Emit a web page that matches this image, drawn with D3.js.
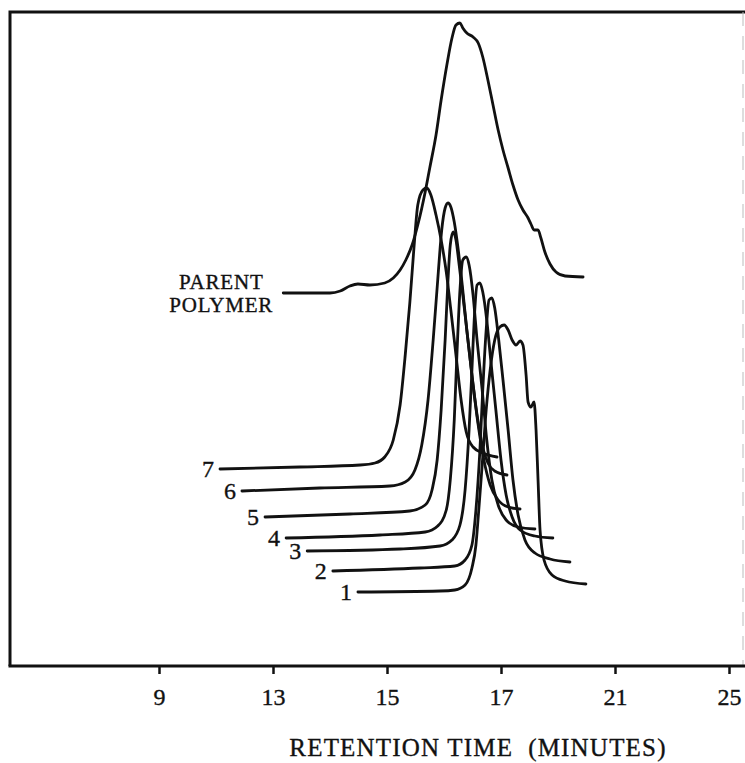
<!DOCTYPE html>
<html lang="en">
<head>
  <meta charset="UTF-8">
  <title>Retention time traces</title>
  <script src="https://d3js.org/d3.v7.min.js"></script>
</head>

<body style="margin:0; background:#fff;">

  <div id="chart"></div>

  <style>
  text {
    font-family: "Liberation Serif", "Times New Roman", serif;
    fill: #111;
    stroke: #111;
    stroke-width: 0.35px;
  }
  </style>

  <script type="text/javascript">

  // tick labels on the time axis (they are evenly spaced on the original)
  const tickLabels = [9, 13, 15, 17, 21, 25];

  // traces: [retention time (min), detector response (arbitrary units)]
  const parent = [
    [13.18, 373], [14.00, 373], [14.18, 375], [14.35, 380], [14.49, 382], [14.70, 381],
    [14.96, 383], [15.11, 388], [15.23, 396], [15.33, 406], [15.44, 421], [15.54, 441],
    [15.67, 474], [15.75, 498], [15.86, 531], [15.95, 566], [16.05, 601], [16.14, 628],
    [16.21, 641], [16.28, 643], [16.33, 638], [16.40, 633], [16.51, 629], [16.60, 623],
    [16.68, 609], [16.77, 586], [16.86, 561], [16.95, 536], [17.07, 516], [17.25, 498],
    [17.42, 481], [17.60, 466], [17.77, 456], [17.95, 448], [18.05, 442], [18.16, 436],
    [18.30, 436], [18.40, 428], [18.54, 414], [18.72, 402], [18.93, 394], [19.25, 390],
    [19.88, 389]
  ];

  const trace7 = [
    [11.14, 197], [13.47, 199], [14.53, 201], [14.79, 203], [14.96, 209], [15.11, 226],
    [15.23, 261], [15.32, 311], [15.40, 363], [15.47, 416], [15.54, 461], [15.63, 476],
    [15.70, 478], [15.77, 471], [15.86, 451], [15.95, 426], [16.04, 394], [16.12, 356],
    [16.21, 311], [16.30, 266], [16.39, 234], [16.51, 219], [16.68, 213], [16.93, 209]
  ];

  const trace6 = [
    [11.91, 175], [13.82, 178], [15.05, 180], [15.32, 184], [15.49, 196], [15.61, 221],
    [15.72, 266], [15.81, 326], [15.89, 386], [15.96, 436], [16.02, 458], [16.07, 463],
    [16.12, 459], [16.18, 444], [16.25, 416], [16.32, 381], [16.40, 336], [16.49, 291],
    [16.58, 251], [16.67, 221], [16.77, 203], [16.89, 195], [17.21, 191]
  ];

  const trace5 = [
    [12.72, 149], [14.35, 152], [15.40, 155], [15.67, 161], [15.79, 176], [15.88, 206],
    [15.95, 256], [16.02, 326], [16.07, 386], [16.11, 421], [16.16, 434], [16.21, 426],
    [16.26, 404], [16.33, 371], [16.42, 326], [16.51, 281], [16.60, 241], [16.70, 206],
    [16.81, 181], [16.95, 166], [17.25, 159], [17.67, 157]
  ];

  const trace4 = [
    [13.23, 128], [14.88, 131], [15.67, 134], [15.89, 140], [16.04, 156], [16.11, 186],
    [16.18, 246], [16.23, 316], [16.28, 376], [16.33, 406], [16.39, 409], [16.44, 401],
    [16.51, 371], [16.58, 326], [16.67, 276], [16.75, 226], [16.84, 186], [16.95, 161],
    [17.18, 146], [17.60, 139], [18.19, 137]
  ];

  const trace3 = [
    [13.60, 115], [15.23, 117], [15.93, 120], [16.14, 126], [16.28, 141], [16.37, 176],
    [16.44, 236], [16.49, 296], [16.53, 346], [16.58, 381], [16.63, 383], [16.68, 374],
    [16.75, 346], [16.82, 306], [16.91, 256], [17.00, 206], [17.18, 171], [17.39, 149],
    [17.67, 136], [18.19, 130], [18.82, 128]
  ];

  const trace2 = [
    [14.05, 95], [15.58, 98], [16.19, 100], [16.37, 106], [16.49, 121], [16.56, 156],
    [16.63, 216], [16.68, 276], [16.74, 336], [16.79, 366], [16.84, 368], [16.89, 358],
    [16.96, 326], [17.07, 286], [17.25, 236], [17.42, 186], [17.60, 151], [17.84, 126],
    [18.19, 113], [18.72, 107], [19.42, 104]
  ];

  const trace1 = [
    [14.49, 74], [15.93, 75], [16.19, 76], [16.37, 81], [16.49, 98], [16.56, 121],
    [16.61, 156], [16.67, 201], [16.74, 256], [16.81, 296], [16.89, 326], [16.98, 339],
    [17.11, 341], [17.25, 336], [17.39, 326], [17.53, 321], [17.67, 325], [17.77, 321],
    [17.88, 291], [17.95, 264], [18.05, 259], [18.16, 264], [18.23, 236], [18.30, 186],
    [18.37, 136], [18.51, 106], [18.79, 91], [19.25, 85], [19.98, 82]
  ];

  const traceNames = ["7", "6", "5", "4", "3", "2", "1"];
  const traces = [trace7, trace6, trace5, trace4, trace3, trace2, trace1];

  const w = 745;
  const h = 763;
  const frame = {left: 10, top: 12, right: 743, bottom: 666};

  const svg = d3.select("#chart").append("svg")
    .attr("width", w)
    .attr("height", h);

  // Scales
  // the printed axis puts unevenly spaced times at even spacing -> polylinear
  const firstTick = 159;
  const tickStep = 114;
  const x = d3.scaleLinear()
    .domain(tickLabels)
    .range(tickLabels.map((d, i) => firstTick + i * tickStep));

  const y = d3.scaleLinear()
    .domain([0, 654])
    .range([frame.bottom, frame.top]);

  // frame
  svg.append("path")
    .attr("d", `M${frame.left},${frame.bottom} L${frame.left},${frame.top} L${w},${frame.top}`)
    .attr("fill", "none")
    .attr("stroke", "#111")
    .attr("stroke-width", 3);

  svg.append("line")
    .attr("x1", frame.right).attr("x2", frame.right)
    .attr("y1", frame.top).attr("y2", frame.bottom)
    .attr("stroke", "#bbb")
    .attr("stroke-width", 1)
    .attr("stroke-dasharray", "14,10");

  // x axis
  const xAxis = d3.axisBottom(x)
    .tickValues(tickLabels)
    .tickSize(8)
    .tickPadding(14)
    .tickFormat(d => d);

  const xAxisGroup = svg.append("g")
    .attr("transform", `translate(0, ${frame.bottom})`)
    .call(xAxis);

  xAxisGroup.select(".domain").remove();
  xAxisGroup.selectAll(".tick line")
    .attr("stroke", "#111")
    .attr("stroke-width", 2.5);
  xAxisGroup.selectAll(".tick text")
    .attr("font-size", "24px")
    .attr("font-family", "Liberation Serif, Times New Roman, serif")
    .attr("fill", "#111");

  svg.append("line")
    .attr("x1", frame.left - 1.5).attr("x2", w)
    .attr("y1", frame.bottom).attr("y2", frame.bottom)
    .attr("stroke", "#111")
    .attr("stroke-width", 3);

  svg.append("text")
    .attr("x", 478)
    .attr("y", 756)
    .attr("text-anchor", "middle")
    .attr("font-size", "25px")
    .attr("letter-spacing", "1.2px")
    .style("white-space", "pre")
    .text("RETENTION TIME  (MINUTES)");

  // traces
  const line = d3.line()
    .x(d => x(d[0]))
    .y(d => y(d[1]))
    .curve(d3.curveMonotoneX);

  const graph = svg.append("g")
    .attr("fill", "none")
    .attr("stroke", "#111")
    .attr("stroke-width", 2.8)
    .attr("stroke-linecap", "round")
    .attr("stroke-linejoin", "round");

  graph.append("path")
    .attr("d", line(parent));

  graph.selectAll("path.trace")
    .data(traces)
    .enter()
    .append("path")
      .attr("class", "trace")
      .attr("d", line);

  // trace labels sit just left of each trace's start
  svg.selectAll("text.trace-label")
    .data(traces)
    .enter()
    .append("text")
      .attr("class", "trace-label")
      .attr("x", d => x(d[0][0]) - 6)
      .attr("y", d => y(d[0][1]) + 8)
      .attr("text-anchor", "end")
      .attr("font-size", "24px")
      .text((d, i) => traceNames[i]);

  const parentLabel = svg.append("text")
    .attr("text-anchor", "middle")
    .attr("font-size", "21px")
    .attr("letter-spacing", "0.8px");

  parentLabel.append("tspan")
    .attr("x", x(parent[0][0]) - 62)
    .attr("y", y(parent[0][1]) - 4)
    .text("PARENT");
  parentLabel.append("tspan")
    .attr("x", x(parent[0][0]) - 62)
    .attr("y", y(parent[0][1]) + 19)
    .text("POLYMER");

  </script>
</body>
</html>
